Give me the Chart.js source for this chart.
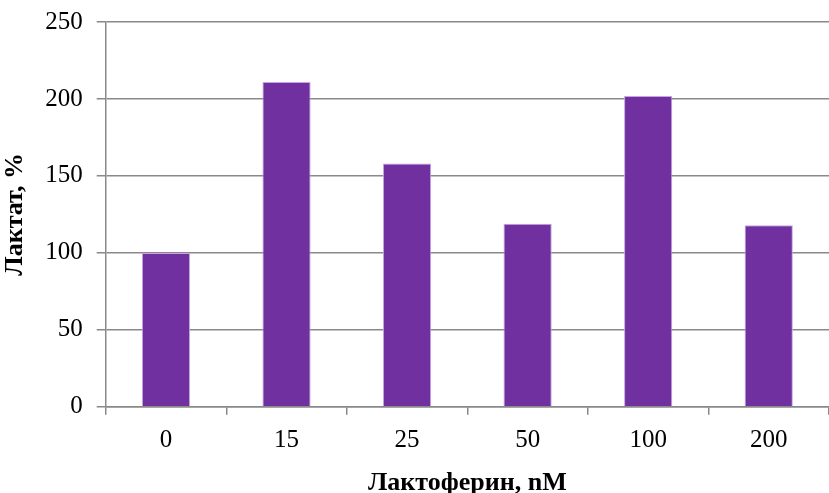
<!DOCTYPE html>
<html>
<head>
<meta charset="utf-8">
<script src="https://cdn.jsdelivr.net/npm/chart.js@4/dist/chart.umd.min.js"></script>
<style>
  html, body { margin: 0; padding: 0; background: #fff; }
  #wrap { width: 829px; height: 493px; }
</style>
</head>
<body>
<div id="wrap"><canvas id="lactateChart"></canvas></div>
<script>
const doses = ["0", "15", "25", "50", "100", "200"];
const lactate = [100, 211, 158, 119, 202, 118];
const yTicks = [0, 50, 100, 150, 200, 250];

const gridGray = "#898989";
const serif = "'Liberation Serif', 'Times New Roman', serif";

new Chart(document.getElementById("lactateChart"), {
  type: "bar",
  data: {
    labels: doses,
    datasets: [{
      data: lactate,
      backgroundColor: "#7030a0",
      borderColor: "#c6a5e0",
      borderWidth: { left: 1, right: 1, top: 1, bottom: 0 },
      barPercentage: 0.4,
      categoryPercentage: 1.0
    }]
  },
  options: {
    responsive: true,
    maintainAspectRatio: false,
    animation: false,
    layout: { padding: { top: 0, right: -3, left: 0, bottom: -6 } },
    plugins: { legend: { display: false }, tooltip: { enabled: false } },
    scales: {
      x: {
        offset: true,
        grid: { offset: true, drawOnChartArea: false, color: gridGray, tickLength: 8, lineWidth: 1.5 },
        border: { color: gridGray, width: 1.5 },
        ticks: { color: "#000", font: { family: serif, size: 25 }, padding: 11 },
        title: { display: true, text: "Лактоферин, nM", color: "#000", font: { family: serif, size: 26, weight: "bold" }, padding: { top: 1, bottom: 0 } }
      },
      y: {
        min: 0,
        max: 250,
        afterBuildTicks: axis => { axis.ticks = yTicks.map(v => ({ value: v })); },
        afterFit: axis => { axis.paddingTop = 22; },
        grid: { color: gridGray, tickLength: 9, lineWidth: 1.5 },
        border: { color: gridGray, width: 1.5 },
        ticks: { color: "#000", font: { family: serif, size: 25 }, padding: 14 },
        title: { display: true, text: "Лактат, %", color: "#000", font: { family: serif, size: 26, weight: "bold" }, padding: { top: 0, bottom: 0 } }
      }
    }
  }
});
</script>
</body>
</html>
